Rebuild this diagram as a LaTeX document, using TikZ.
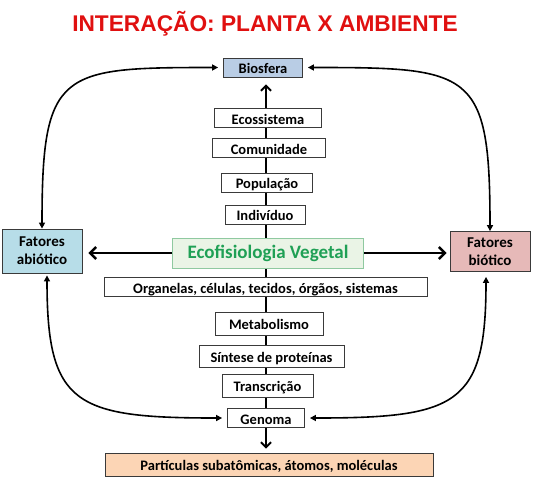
\documentclass[tikz,border=0pt]{standalone}
\usepackage{fontspec}
\setmainfont{Carlito}
\newfontfamily\titlefont{Liberation Sans}
\usetikzlibrary{arrows.meta,backgrounds}
\definecolor{TitleRed}{HTML}{E01010}
\definecolor{BioBlue}{HTML}{B9CDE5}
\definecolor{AbioCyan}{HTML}{B7DDE8}
\definecolor{BiotPink}{HTML}{E6B9B8}
\definecolor{EcoFill}{HTML}{EAF4E6}
\definecolor{EcoLine}{HTML}{8FC9A0}
\definecolor{EcoText}{HTML}{1FA055}
\definecolor{PartOrange}{HTML}{FCD5B5}
\definecolor{BoxLine}{HTML}{3A3A3A}

\begin{document}
\begin{tikzpicture}[x=1pt,y=-1pt,
    nivel/.style={draw=BoxLine,line width=0.8pt,fill=white,
      font=\fontsize{14.5}{16}\selectfont\bfseries,
      inner xsep=0pt,inner ysep=1pt,text height=14.5pt,text depth=2.5pt},
    fator/.style={draw=BoxLine,line width=0.8pt,align=center,
      font=\fontsize{15}{18}\selectfont\bfseries,
      minimum width=80pt,minimum height=44pt,inner sep=2pt},
    eixo/.style={line width=2pt,-{Straight Barb[length=5pt,width=10pt]}},
    ramo/.style={line width=2.4pt,-{Straight Barb[length=6pt,width=12pt]}},
    curva/.style={line width=1.6pt,
      {Triangle[length=6pt,width=6pt]}-{Triangle[length=6pt,width=6pt]}}]
        \useasboundingbox (0,0) rectangle (534,480);
        \node[TitleRed,anchor=base,font=\titlefont\fontsize{22.7}{26}\selectfont\bfseries]
          (titulo) at (265,31) {INTERAÇÃO: PLANTA X AMBIENTE};

        \node[nivel,fill=BioBlue,minimum width=79pt] (bio) at (263,67.5) {Biosfera};
        \node[nivel,minimum width=107pt] (ecos) at (268,118) {Ecossistema};
        \node[nivel,minimum width=113pt] (com) at (269,148) {Comunidade};
        \node[nivel,minimum width=91pt] (pop) at (267,182.5) {População};
        \node[nivel,minimum width=80pt] (ind) at (265,214.5) {Indivíduo};
        \node[draw=EcoLine,fill=EcoFill,text=EcoText,line width=1pt,
          font=\fontsize{19}{21}\selectfont\bfseries,
          minimum width=191pt,minimum height=30pt] (eco) at (268,253) {Ecofisiologia Vegetal};
        \node[nivel,minimum width=323pt] (org) at (265.5,287)
          {Organelas, células, tecidos, órgãos, sistemas};
        \node[nivel,minimum width=108pt,minimum height=23pt] (met) at (269,323.5) {Metabolismo};
        \node[nivel,minimum width=145pt,minimum height=22pt] (sin) at (271.5,356) {Síntese de proteínas};
        \node[nivel,minimum width=91pt,minimum height=23pt] (tra) at (267.5,385.5) {Transcrição};
        \node[nivel,minimum width=77pt] (gen) at (266,418) {Genoma};
        \node[nivel,fill=PartOrange,minimum width=328pt,minimum height=23pt] (par) at (269,464.5)
          {Partículas subatômicas, átomos, moléculas};
        \node[fator,fill=AbioCyan] (abio) at (42,251) {Fatores\\abiótico};
        \node[fator,fill=BiotPink,minimum height=40pt] (biot) at (490,251.5) {Fatores\\biótico};

        \begin{scope}[on background layer]
          \draw[eixo,shorten >=7pt] (gen.north) -- (gen.north |- bio.south);
        \end{scope}
        \draw[eixo,shorten >=4pt] (gen.south) -- (gen.south |- par.north);
        \draw[ramo,shorten >=6pt] (eco.west) -- (eco.west -| abio.east);
        \draw[ramo,shorten >=3pt] (eco.east) -- (eco.east -| biot.west);

        \draw[curva,shorten >=5pt] (abio.north) .. controls (42,70) and (60,67.5) .. (bio.west);
        \draw[curva,shorten >=5pt] (biot.north) .. controls (490,70) and (472,67.5) .. (bio.east);
        \draw[curva,shorten <=2pt,shorten >=5pt]
          ([xshift=5pt]abio.south) .. controls (47,405) and (75,418) .. (gen.west);
        \draw[curva,shorten <=5pt,shorten >=5pt]
          ([xshift=-4pt]biot.south) .. controls (486,405) and (457,418) .. (gen.east);
      \end{tikzpicture}
\end{document}
